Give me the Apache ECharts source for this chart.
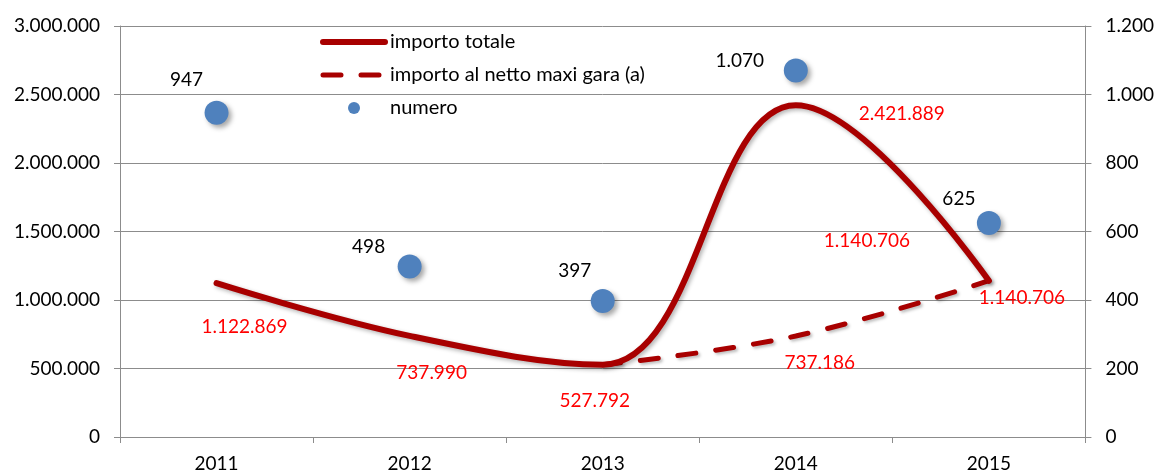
<!DOCTYPE html>
<html>
<head>
<meta charset="utf-8">
<script src="https://cdn.jsdelivr.net/npm/echarts@6/dist/echarts.min.js"></script>
<style>
  html, body { margin: 0; padding: 0; background: #fff; }
  #chart { width: 1157px; height: 473px; }
</style>
</head>
<body>
<div id="chart"></div>
<script>
// dati
const anni = ['2011', '2012', '2013', '2014', '2015']
const importoTotale = [1122869, 737990, 527792, 2421889, 1140706]
const importoNetto = [null, null, 527792, 737186, 1140706]
const numero = [947, 498, 397, 1070, 625]

// spostamento delle etichette (come nel grafico originale)
const offTotale = [[28, 44], [22, 37], [-8, 36], [106, 9], [33, 17]]
const offNetto = [null, null, null, [24, 27], [-122, -40]]
const offNumero = [[-30, -33], [-41, -20], [-28, -30], [-56, -10], [-30, -24]]

const rosso = '#a80000'
const blu = '#4f81bd'
const grigio = '#8c8c8c'
const font = 'Lato, "Open Sans", sans-serif'

// formato italiano 1.234.567
function fmt (v) {
  return String(v).replace(/\B(?=(\d{3})+(?!\d))/g, '.')
}

function withLabels (values, offsets, color) {
  return values.map((v, i) => {
    if (v == null) return null
    const off = offsets[i]
    return {
      value: v,
      label: off
        ? { show: true, position: 'inside', offset: off, color: color, fontSize: 19, fontFamily: font, formatter: p => fmt(p.value) }
        : { show: false }
    }
  })
}

const axisText = { fontSize: 19, fontFamily: font, color: '#000' }

const chart = echarts.init(document.getElementById('chart'))

chart.setOption({
  animation: false,
  grid: { left: 120, right: 70, top: 26, bottom: 36 },
  legend: {
    orient: 'vertical',
    left: 320,
    top: 32,
    padding: 0,
    itemWidth: 62,
    itemHeight: 12,
    itemGap: 13,
    textStyle: { fontSize: 20, lineHeight: 20, fontFamily: font, color: '#000' },
    data: [
      {
        name: 'importo totale',
        itemStyle: { opacity: 0 },
        lineStyle: { width: 6, cap: 'round', color: rosso, shadowBlur: 0 }
      },
      {
        name: 'importo al netto maxi gara (a)',
        itemStyle: { opacity: 0 },
        lineStyle: { width: 5, type: [18, 20], cap: 'round', color: rosso, shadowBlur: 0 }
      },
      { name: 'numero', icon: 'circle', itemStyle: { color: blu, opacity: 1, shadowBlur: 0 } }
    ]
  },
  xAxis: {
    type: 'category',
    data: anni,
    boundaryGap: true,
    axisLine: { lineStyle: { color: grigio, width: 1 } },
    axisTick: { show: true, length: 6, lineStyle: { color: grigio } },
    axisLabel: Object.assign({ margin: 17 }, axisText)
  },
  yAxis: [
    {
      type: 'value',
      min: 0,
      max: 3000000,
      interval: 500000,
      axisLine: { show: true, lineStyle: { color: grigio } },
      axisTick: { show: true, length: 6, lineStyle: { color: grigio } },
      splitLine: { lineStyle: { color: grigio, width: 1 } },
      axisLabel: Object.assign({ margin: 20, formatter: fmt }, axisText)
    },
    {
      type: 'value',
      min: 0,
      max: 1200,
      interval: 200,
      axisLine: { show: true, lineStyle: { color: grigio } },
      axisTick: { show: true, length: 6, lineStyle: { color: grigio } },
      splitLine: { show: false },
      axisLabel: Object.assign({ margin: 20, formatter: fmt }, axisText)
    }
  ],
  series: [
    {
      name: 'importo totale',
      type: 'line',
      yAxisIndex: 0,
      smooth: 0.4,
      symbol: 'circle',
      symbolSize: 0.1,
      data: withLabels(importoTotale, offTotale, '#ff0000'),
      itemStyle: { color: rosso },
      lineStyle: {
        color: rosso, width: 6, cap: 'round',
        shadowColor: 'rgba(0,0,0,0.3)', shadowBlur: 4, shadowOffsetX: 2, shadowOffsetY: 2
      },
      z: 3
    },
    {
      name: 'importo al netto maxi gara (a)',
      type: 'line',
      yAxisIndex: 0,
      smooth: 0.4,
      symbol: 'circle',
      symbolSize: 0.1,
      data: withLabels(importoNetto, offNetto, '#ff0000'),
      itemStyle: { color: rosso },
      lineStyle: {
        color: rosso, width: 5, type: [18, 20], cap: 'round',
        shadowColor: 'rgba(0,0,0,0.25)', shadowBlur: 3, shadowOffsetX: 2, shadowOffsetY: 2
      },
      z: 2
    },
    {
      name: 'numero',
      type: 'scatter',
      yAxisIndex: 1,
      symbol: 'circle',
      symbolSize: 24,
      data: withLabels(numero, offNumero, '#000'),
      itemStyle: {
        color: blu, opacity: 1,
        shadowColor: 'rgba(0,0,0,0.35)', shadowBlur: 5, shadowOffsetX: 3, shadowOffsetY: 3
      },
      z: 4
    }
  ]
})
</script>
</body>
</html>
